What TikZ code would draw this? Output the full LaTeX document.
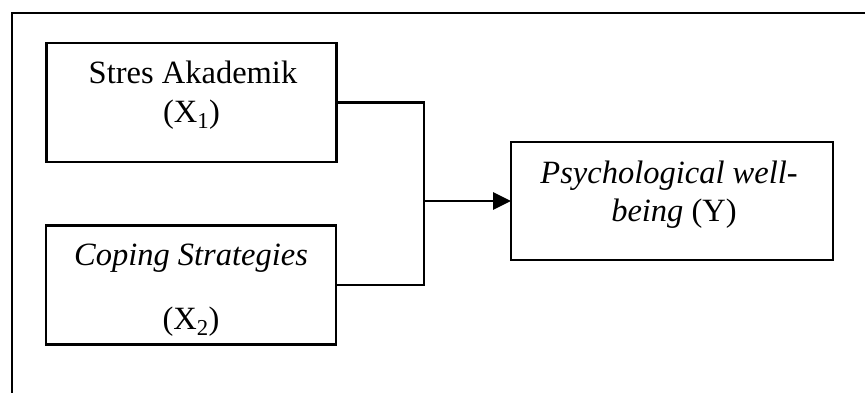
\documentclass[tikz,border=0pt]{standalone}
\usepackage{fontspec}
\setmainfont{Liberation Serif}
\usetikzlibrary{arrows.meta}
\begin{document}
\begin{tikzpicture}[x=1pt,y=-1pt,
  box/.style={draw=black,line width=2.1pt,minimum width=290pt,minimum height=119pt,inner sep=0pt,outer sep=0pt},
  ybox/.style={draw=black,line width=2.1pt,minimum width=322pt,minimum height=118pt,inner sep=0pt,outer sep=0pt},
  txt/.style={inner sep=0pt,outer sep=0pt,anchor=base,font=\fontsize{32.5}{39}\selectfont},
  conn/.style={line width=2.8pt},
  frame/.style={line width=2.1pt}]
\useasboundingbox (0,0) rectangle (865,392);
\begin{scope}
\clip (0,0) rectangle (865,392);
\draw[frame] (12,400) -- (12,13) -- (875,13);
\end{scope}
% boxes
\node[box] (b1) at (191.5,102.5) {};
\node[box] (b2) at (191,285) {};
\node[ybox] (b3) at (672,201) {};
% texts
\node[txt] (t1a) at (193,83) {Stres Akademik};
\node[txt] (t1b) at (191.5,122) {(X\textsubscript{1})};
\node[txt] (t2a) at (191,265) {\itshape Coping Strategies};
\node[txt] (t2b) at (191,329) {(X\textsubscript{2})};
\node[txt] (t3a) at (669,183) {\itshape Psychological well-};
\node[txt] (t3b) at (674,221) {\textit{being} (Y)};
% connectors
\coordinate (j) at (424,201);
\draw[conn] (b1.east) -| (j) |- (b2.east);
\draw[conn,-{Triangle[length=18pt,width=17pt]}] (j) -- (b3.west);
\end{tikzpicture}
\end{document}
